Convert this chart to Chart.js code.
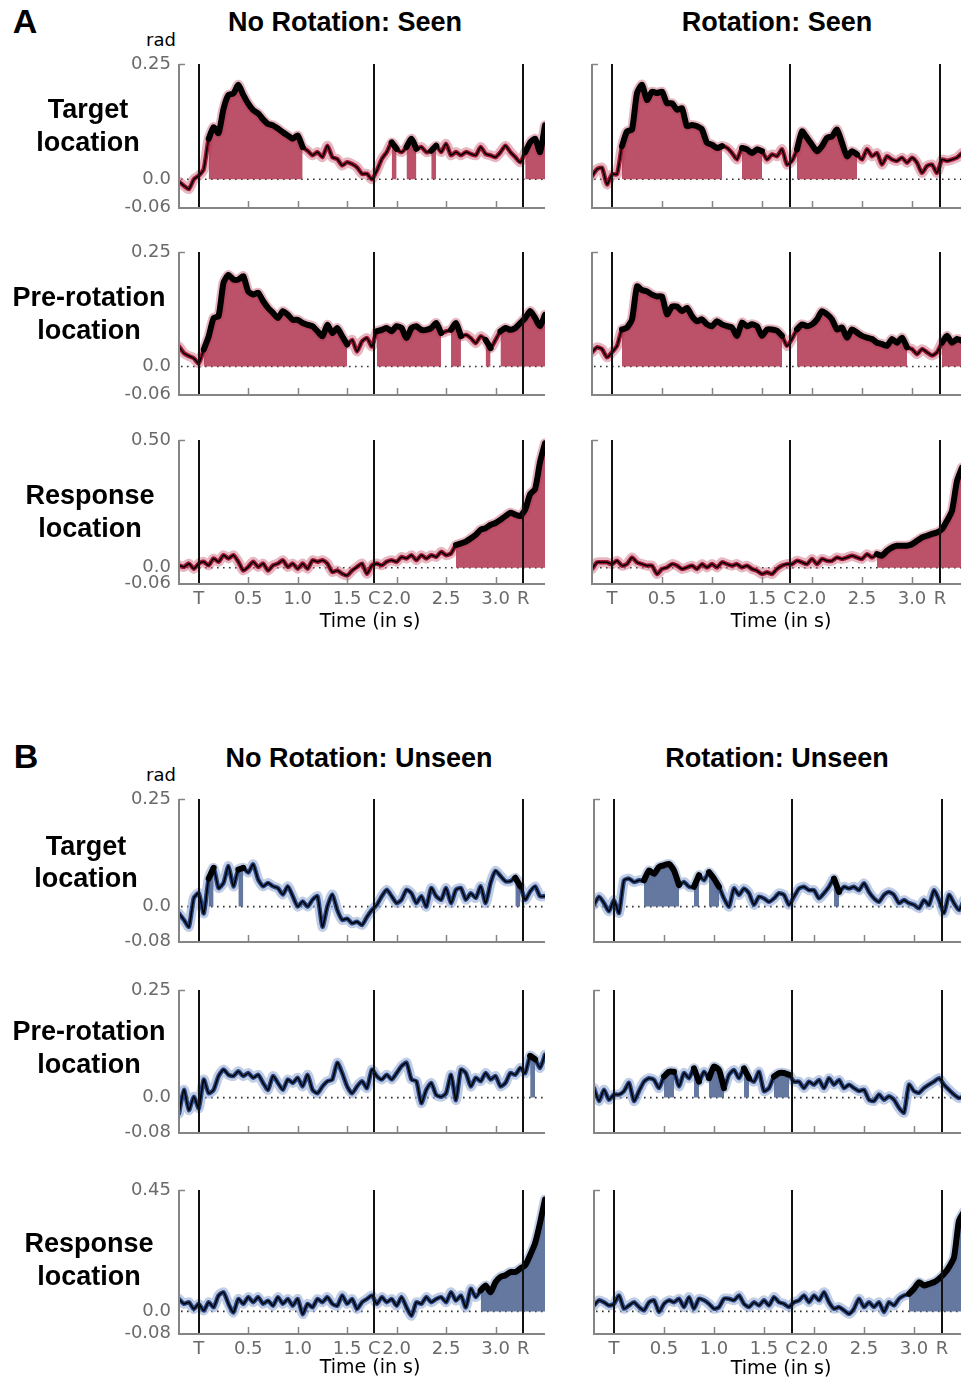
<!DOCTYPE html>
<html><head><meta charset="utf-8">
<script src="https://cdn.jsdelivr.net/npm/chart.js@4.4.0/dist/chart.umd.min.js"></script>
<style>
html,body{margin:0;padding:0;background:#fff;overflow:hidden;width:961px;height:1378px;}
#root{position:relative;width:961px;height:1378px;overflow:hidden;background:#fff;}
canvas{position:absolute;}
.t{position:absolute;white-space:nowrap;transform:translate(-50%,-50%);color:#000;}
</style></head><body><div id="root"></div>
<script>
// ---------------- DATA ----------------
const times = [-0.2,-0.15,-0.1,-0.05,0,0.05,0.1,0.15,0.2,0.25,0.3,0.35,0.4,0.45,0.5,0.55,0.6,0.65,0.7,0.75,0.8,0.85,0.9,0.95,1,1.05,1.1,1.15,1.2,1.25,1.3,1.35,1.4,1.45,1.5,1.55,1.6,1.65,1.7,1.75,1.8,1.85,1.9,1.95,2,2.05,2.1,2.15,2.2,2.25,2.3,2.35,2.4,2.45,2.5,2.55,2.6,2.65,2.7,2.75,2.8,2.85,2.9,2.95,3,3.05,3.1,3.15,3.2,3.25,3.3,3.35,3.4,3.45,3.5];

const eventTimes = [0, 1.775, 3.28];
const eventLabels = ['T', 'C', 'R'];
const tickTimes = [0.5, 1.0, 1.5, 2.0, 2.5, 3.0];
const tickLabels = ['0.5', '1.0', '1.5', '2.0', '2.5', '3.0'];

const yRangeSeen = [-0.06, 0.25];
const yLabelsSeen = ['-0.06', '0.0', '0.25'];
const yRangeSeenResp = [-0.06, 0.50];
const yLabelsSeenResp = ['-0.06', '0.0', '0.50'];
const yRangeUnseen = [-0.08, 0.25];
const yLabelsUnseen = ['-0.08', '0.0', '0.25'];
const yRangeUnseenResp = [-0.08, 0.45];
const yLabelsUnseenResp = ['-0.08', '0.0', '0.45'];

// A: Seen
const seenNoRotTarget = [-0.005,-0.014,-0.021,0.0,0.008,0.022,0.088,0.113,0.10,0.153,
 0.183,0.186,0.205,0.183,0.164,0.15,0.143,0.13,0.12,0.117,
 0.11,0.102,0.095,0.088,0.095,0.07,0.062,0.052,0.059,0.048,
 0.073,0.048,0.044,0.03,0.037,0.033,0.026,0.012,0.012,0.0,
 0.019,0.044,0.059,0.08,0.066,0.059,0.07,0.088,0.066,0.07,
 0.059,0.062,0.073,0.059,0.077,0.052,0.059,0.052,0.059,0.055,
 0.052,0.07,0.055,0.052,0.048,0.059,0.073,0.059,0.048,0.037,
 0.059,0.08,0.088,0.059,0.117];
const seenNoRotTargetSig = [[0.1,1.05],[1.95,2.0],[2.1,2.2],[2.35,2.4],[3.3,3.5]];

const seenRotTarget = [0.007,0.022,0.025,-0.011,0.011,0.011,0.072,0.104,0.108,0.187,
 0.205,0.172,0.19,0.187,0.19,0.165,0.165,0.151,0.154,0.115,
 0.118,0.115,0.108,0.079,0.075,0.068,0.072,0.068,0.057,0.043,
 0.068,0.065,0.057,0.065,0.061,0.043,0.054,0.05,0.065,0.032,
 0.04,0.065,0.104,0.09,0.075,0.061,0.072,0.09,0.093,0.108,
 0.079,0.05,0.061,0.054,0.043,0.065,0.05,0.057,0.032,0.05,
 0.043,0.04,0.047,0.036,0.047,0.036,0.014,0.029,0.032,0.014,
 0.043,0.04,0.043,0.047,0.057];
const seenRotTargetSig = [[0.1,1.1],[1.3,1.5],[1.85,2.45]];

const seenNoRotPre = [0.044,0.029,0.023,0.018,0.007,0.037,0.066,0.106,0.11,0.183,
 0.2,0.19,0.19,0.197,0.164,0.157,0.161,0.143,0.128,0.117,
 0.106,0.121,0.113,0.102,0.102,0.095,0.091,0.088,0.077,0.066,
 0.091,0.073,0.084,0.066,0.048,0.058,0.033,0.055,0.062,0.044,
 0.077,0.08,0.084,0.077,0.088,0.084,0.062,0.084,0.088,0.08,
 0.08,0.084,0.095,0.073,0.077,0.08,0.095,0.066,0.069,0.062,
 0.051,0.066,0.058,0.04,0.058,0.077,0.084,0.08,0.084,0.095,
 0.106,0.121,0.106,0.088,0.113];
const seenNoRotPreSig = [[0.05,1.5],[1.8,2.45],[2.55,2.65],[2.9,2.95],[3.05,3.5]];

const seenRotPre = [0.031,0.042,0.038,0.02,0.031,0.045,0.081,0.085,0.103,0.175,
 0.167,0.164,0.157,0.153,0.153,0.114,0.131,0.131,0.121,0.128,
 0.11,0.099,0.103,0.092,0.088,0.099,0.092,0.088,0.085,0.067,
 0.096,0.088,0.092,0.088,0.067,0.081,0.081,0.078,0.067,0.045,
 0.06,0.081,0.092,0.088,0.092,0.103,0.121,0.114,0.103,0.081,
 0.085,0.063,0.081,0.074,0.067,0.063,0.06,0.052,0.049,0.045,
 0.06,0.052,0.063,0.042,0.038,0.027,0.038,0.031,0.024,0.031,
 0.052,0.067,0.052,0.06,0.056];
const seenRotPreSig = [[0.1,1.7],[1.85,2.95],[3.3,3.5]];

const seenNoRotResp = [0.009,0.003,0.016,-0.004,0.016,0.023,0.009,0.036,0.023,0.049,
 0.036,0.049,0.023,-0.011,0.003,0.023,0.003,0.016,-0.011,0.009,
 0.016,0.029,0.003,0.016,-0.004,0.016,-0.004,0.029,0.023,0.029,
 0.016,-0.017,-0.011,-0.024,-0.031,-0.011,0.003,0.016,-0.024,0.009,
 0.016,0.009,0.023,0.029,0.023,0.042,0.036,0.049,0.029,0.049,
 0.036,0.049,0.042,0.062,0.049,0.056,0.089,0.095,0.102,0.115,
 0.129,0.149,0.155,0.168,0.175,0.188,0.202,0.215,0.208,0.202,
 0.228,0.288,0.308,0.414,0.487];
const seenNoRotRespSig = [[2.6,3.5]];

const seenRotResp = [-0.005,0.021,0.021,0.021,0.014,0.027,0.008,0.014,0.04,0.021,
 0.014,0.008,0.008,-0.025,-0.005,0.001,0.014,0.008,-0.005,0.001,
 0.008,-0.005,0.014,0.001,0.014,0.001,0.021,0.014,0.008,0.014,
 0.001,0.008,-0.005,-0.012,-0.025,-0.018,-0.025,-0.005,0.008,0.014,
 0.014,0.027,0.021,0.014,0.034,0.014,0.034,0.027,0.027,0.04,
 0.034,0.04,0.047,0.04,0.034,0.053,0.04,0.053,0.047,0.066,
 0.079,0.086,0.086,0.086,0.092,0.105,0.118,0.125,0.132,0.138,
 0.151,0.184,0.223,0.34,0.392];
const seenRotRespSig = [[2.65,3.5]];

// B: Unseen
const unseenNoRotTarget = [-0.016,-0.031,-0.047,0.02,0.031,-0.016,0.065,0.09,0.043,0.055,
 0.094,0.047,0.086,0.09,0.079,0.098,0.063,0.047,0.055,0.047,
 0.043,0.028,0.047,0.024,0.0,0.012,0.0,0.016,0.024,-0.047,
 0.0,0.028,-0.008,-0.031,-0.028,-0.039,-0.035,-0.043,-0.024,-0.008,
 0.004,0.024,0.039,0.024,0.008,0.016,0.039,0.031,0.008,0.024,
 0.0,0.043,0.024,0.016,0.043,0.008,0.039,0.043,0.016,0.031,
 0.02,0.047,0.008,0.055,0.083,0.071,0.059,0.059,0.067,0.047,
 0.016,0.035,0.047,0.024,0.024];
const unseenNoRotTargetSig = [[0.1,0.15],[0.4,0.45],[3.2,3.25]];

const unseenRotTarget = [0.004,0.023,0.008,-0.011,0.015,-0.015,0.061,0.065,0.057,0.061,
 0.061,0.084,0.076,0.092,0.096,0.099,0.084,0.05,0.057,0.046,
 0.046,0.073,0.061,0.08,0.065,0.046,0.019,0.0,0.042,0.027,
 0.042,0.031,0.004,0.023,0.019,0.011,0.019,0.031,0.027,0.004,
 0.023,0.042,0.046,0.038,0.038,0.019,0.031,0.046,0.065,0.034,
 0.046,0.042,0.046,0.038,0.054,0.034,0.019,0.011,0.027,0.034,
 0.027,0.008,0.015,0.008,0.004,-0.004,0.015,0.004,0.038,0.015,
 -0.015,0.027,0.008,-0.008,0.015];
const unseenRotTargetSig = [[0.3,0.65],[0.8,0.85],[0.95,1.05],[2.2,2.25]];

const unseenNoRotPre = [-0.037,0.018,-0.029,0.002,-0.025,0.042,0.01,0.018,0.05,0.065,
 0.053,0.05,0.061,0.05,0.057,0.046,0.053,0.034,0.018,0.05,
 0.034,0.018,0.042,0.034,0.046,0.026,0.053,0.018,0.01,0.026,
 0.038,0.042,0.081,0.057,0.026,0.01,0.026,0.038,0.022,0.065,
 0.05,0.042,0.053,0.042,0.057,0.073,0.081,0.042,0.038,-0.013,
 0.018,0.034,0.006,0.002,0.01,0.053,-0.006,0.065,0.057,0.026,
 0.046,0.038,0.057,0.042,0.05,0.026,0.034,0.057,0.053,0.069,
 0.057,0.097,0.089,0.069,0.1];
const unseenNoRotPreSig = [[3.35,3.4]];

const unseenRotPre = [0.022,-0.008,0.018,-0.005,0.007,0.007,0.015,0.034,-0.008,0.015,
 0.037,0.045,0.041,0.022,0.049,0.06,0.06,0.026,0.057,0.045,
 0.068,0.037,0.06,0.045,0.072,0.064,0.022,0.053,0.064,0.045,
 0.068,0.045,0.037,0.06,0.015,0.022,0.049,0.057,0.057,0.053,
 0.037,0.037,0.022,0.037,0.03,0.041,0.022,0.045,0.03,0.041,
 0.022,0.03,0.022,0.015,0.018,-0.005,-0.008,0.007,-0.005,0.003,
 -0.005,-0.024,-0.035,0.03,0.015,0.011,0.022,0.03,0.037,0.045,
 0.03,0.018,0.007,-0.001,0.003];
const unseenRotPreSig = [[0.5,0.6],[0.8,0.85],[0.95,1.1],[1.3,1.35],[1.6,1.75]];

const unseenNoRotResp = [0.046,0.028,0.034,0.009,0.028,0.003,0.034,0.015,0.059,0.071,
 0.028,-0.004,0.046,0.028,0.053,0.034,0.053,0.028,0.04,0.021,
 0.053,0.028,0.046,0.021,0.046,-0.01,0.028,0.015,0.046,0.034,
 0.053,0.028,0.021,0.059,0.028,0.046,0.009,0.034,0.046,0.059,
 0.028,0.053,0.034,0.046,0.021,0.053,0.015,-0.016,0.034,0.028,
 0.053,0.034,0.046,0.053,0.034,0.071,0.04,0.059,0.015,0.084,
 0.053,0.078,0.096,0.071,0.109,0.128,0.134,0.146,0.146,0.159,
 0.171,0.209,0.253,0.328,0.415];
const unseenNoRotRespSig = [[2.85,3.5]];

const unseenRotResp = [0.022,0.041,0.034,0.022,0.028,0.059,0.01,0.022,0.034,0.016,
 0.004,0.034,0.041,-0.002,0.028,0.041,0.034,0.047,0.016,0.053,
 0.01,0.047,0.041,0.028,0.01,0.016,0.047,0.047,0.041,0.059,
 0.028,0.016,0.034,0.022,0.041,0.022,0.053,0.034,0.028,0.016,
 0.034,0.041,0.059,0.034,0.059,0.041,0.071,0.034,0.01,0.016,
 0.004,-0.009,0.01,0.047,0.016,0.034,0.016,0.034,-0.002,0.034,
 0.022,0.047,0.059,0.065,0.084,0.108,0.096,0.102,0.108,0.121,
 0.139,0.164,0.2,0.336,0.37];
const unseenRotRespSig = [[2.95,3.5]];

// ---------------- STYLE ----------------
const RED = {sem:'rgba(208,112,132,0.5)', fill:'rgba(178,58,84,0.88)', edge:'rgb(160,24,54)'};
const BLUE = {sem:'rgba(150,172,212,0.6)', fill:'rgba(88,108,152,0.92)', edge:'rgb(40,70,130)'};
const AXIS_COLOR = '#858585';
const TICK_COLOR = '#6a6a6a';
const TICK_FONT = {family:'"DejaVu Sans"', size:18};

const root = document.getElementById('root');

const decor = {
  id: 'decor',
  beforeDatasetsDraw(chart) {
    const {ctx, chartArea: a, scales: {x, y}} = chart;
    const y0 = y.getPixelForValue(0);
    ctx.save();
    ctx.strokeStyle = '#333'; ctx.lineWidth = 1.6; ctx.setLineDash([1.6, 4.4]);
    ctx.beginPath(); ctx.moveTo(a.left + 2, y0); ctx.lineTo(a.right, y0); ctx.stroke();
    ctx.restore();
  },
  afterDatasetsDraw(chart) {
    const {ctx, chartArea: a, scales: {x}} = chart;
    ctx.save();
    ctx.strokeStyle = '#111'; ctx.lineWidth = 2;
    eventTimes.forEach(t => {
      const px = Math.round(x.getPixelForValue(t));
      ctx.beginPath(); ctx.moveTo(px, a.top); ctx.lineTo(px, a.bottom); ctx.stroke();
    });
    ctx.strokeStyle = AXIS_COLOR; ctx.lineWidth = 1.5;
    tickTimes.forEach(t => {
      const px = Math.round(x.getPixelForValue(t)) + 0.5;
      ctx.beginPath(); ctx.moveTo(px, a.bottom); ctx.lineTo(px, a.bottom - 6); ctx.stroke();
    });
    ctx.beginPath(); ctx.moveTo(a.left, a.top + 0.5); ctx.lineTo(a.left + 6, a.top + 0.5); ctx.stroke();
    ctx.lineWidth = 2;
    ctx.beginPath(); ctx.moveTo(a.left, a.top); ctx.lineTo(a.left, a.bottom + 1); ctx.lineTo(a.right, a.bottom + 1); ctx.stroke();
    ctx.restore();
  }
};

function buildPanel(p) {
  const isLeft = p.col === 0;
  const axL = isLeft ? 179 : (p.block === 'A' ? 592 : 594);
  const plotW = isLeft ? 366 : 370;
  const leftW = isLeft ? 80 : 6;
  const padT = 12, padR = 14;
  const botH = p.bottomRow ? 30 : 8;
  const W = leftW + plotW + padR, H = padT + (p.bottom - p.top) + botH;
  const cv = document.createElement('canvas');
  cv.width = W; cv.height = H;
  cv.style.left = (axL - leftW) + 'px'; cv.style.top = (p.top - padT) + 'px';
  cv.style.width = W + 'px'; cv.style.height = H + 'px';
  root.appendChild(cv);

  const inSig = t => p.sig.some(([s, e]) => t >= s - 1e-6 && t <= e + 1e-6);
  const all = times.map((t, i) => ({x: t, y: p.values[i]}));
  const sigPts = times.map((t, i) => ({x: t, y: inSig(t) ? p.values[i] : null}));
  const common = {pointRadius: 0, tension: 0.2, fill: false, spanGaps: false,
    clip: {left: 0, right: 0, top: 12, bottom: 12}, borderCapStyle: 'round', borderJoinStyle: 'round'};
  const c = p.colors;

  const xTickVals = eventTimes.concat(tickTimes).sort((a, b) => a - b);
  const xLabelFor = v => {
    let i = eventTimes.findIndex(e => Math.abs(e - v) < 1e-6);
    if (i >= 0) return eventLabels[i];
    i = tickTimes.findIndex(e => Math.abs(e - v) < 1e-6);
    return i >= 0 ? tickLabels[i] : '';
  };
  const yVals = [p.yRange[0], 0, p.yRange[1]];
  const yLabelFor = v => {
    const i = yVals.findIndex(e => Math.abs(e - v) < 1e-9);
    return i >= 0 ? p.yLabels[i] : '';
  };

  new Chart(cv, {
    type: 'line',
    data: {datasets: [
      Object.assign({}, common, {data: all, borderColor: c.sem, borderWidth: 10, order: 5}),
      Object.assign({}, common, {data: sigPts, borderWidth: 0, borderColor: 'rgba(0,0,0,0)', backgroundColor: c.fill, fill: 'origin', order: 4}),
      Object.assign({}, common, {data: all, borderColor: c.edge, borderWidth: 4.5, order: 3}),
      Object.assign({}, common, {data: all, borderColor: '#000', borderWidth: 1.6, order: 2}),
      Object.assign({}, common, {data: sigPts, borderColor: '#000', borderWidth: 6, order: 1})
    ]},
    options: {
      responsive: false, animation: false, devicePixelRatio: 1,
      layout: {padding: {left: 0, right: padR, top: padT, bottom: 0}},
      plugins: {legend: {display: false}, tooltip: {enabled: false}},
      events: [],
      scales: {
        x: {
          type: 'linear', min: -0.2, max: 3.5,
          afterBuildTicks: s => { s.ticks = xTickVals.map(v => ({value: v})); },
          afterFit: s => { s.height = botH; s.paddingLeft = 0; s.paddingRight = 0; s.paddingTop = 0; s.paddingBottom = 0; },
          grid: {display: false, drawTicks: false},
          border: {display: false},
          ticks: {display: !!p.bottomRow, autoSkip: false, maxRotation: 0, minRotation: 0,
            padding: 6, color: TICK_COLOR, font: TICK_FONT, callback: v => xLabelFor(v)}
        },
        y: {
          type: 'linear', min: p.yRange[0], max: p.yRange[1],
          afterBuildTicks: s => { s.ticks = yVals.map(v => ({value: v})); },
          afterFit: s => { s.width = leftW; s.paddingTop = 0; s.paddingBottom = 0; s.paddingLeft = 0; s.paddingRight = 0; },
          grid: {display: false, drawTicks: false},
          border: {display: false},
          ticks: {display: isLeft, autoSkip: false, padding: 8, color: TICK_COLOR, font: TICK_FONT,
            callback: v => yLabelFor(v)}
        }
      }
    },
    plugins: [decor]
  });
}

const rowsA = [{top: 64, bottom: 207}, {top: 252, bottom: 394}, {top: 440, bottom: 583}];
const rowsB = [{top: 799, bottom: 941}, {top: 990, bottom: 1132}, {top: 1190, bottom: 1333}];

const panels = [
  {block:'A', col:0, row:0, values: seenNoRotTarget, sig: seenNoRotTargetSig, yRange: yRangeSeen, yLabels: yLabelsSeen, colors: RED},
  {block:'A', col:1, row:0, values: seenRotTarget, sig: seenRotTargetSig, yRange: yRangeSeen, yLabels: yLabelsSeen, colors: RED},
  {block:'A', col:0, row:1, values: seenNoRotPre, sig: seenNoRotPreSig, yRange: yRangeSeen, yLabels: yLabelsSeen, colors: RED},
  {block:'A', col:1, row:1, values: seenRotPre, sig: seenRotPreSig, yRange: yRangeSeen, yLabels: yLabelsSeen, colors: RED},
  {block:'A', col:0, row:2, values: seenNoRotResp, sig: seenNoRotRespSig, yRange: yRangeSeenResp, yLabels: yLabelsSeenResp, colors: RED},
  {block:'A', col:1, row:2, values: seenRotResp, sig: seenRotRespSig, yRange: yRangeSeenResp, yLabels: yLabelsSeenResp, colors: RED},
  {block:'B', col:0, row:0, values: unseenNoRotTarget, sig: unseenNoRotTargetSig, yRange: yRangeUnseen, yLabels: yLabelsUnseen, colors: BLUE},
  {block:'B', col:1, row:0, values: unseenRotTarget, sig: unseenRotTargetSig, yRange: yRangeUnseen, yLabels: yLabelsUnseen, colors: BLUE},
  {block:'B', col:0, row:1, values: unseenNoRotPre, sig: unseenNoRotPreSig, yRange: yRangeUnseen, yLabels: yLabelsUnseen, colors: BLUE},
  {block:'B', col:1, row:1, values: unseenRotPre, sig: unseenRotPreSig, yRange: yRangeUnseen, yLabels: yLabelsUnseen, colors: BLUE},
  {block:'B', col:0, row:2, values: unseenNoRotResp, sig: unseenNoRotRespSig, yRange: yRangeUnseenResp, yLabels: yLabelsUnseenResp, colors: BLUE},
  {block:'B', col:1, row:2, values: unseenRotResp, sig: unseenRotRespSig, yRange: yRangeUnseenResp, yLabels: yLabelsUnseenResp, colors: BLUE}
];

panels.forEach(p => {
  const r = (p.block === 'A' ? rowsA : rowsB)[p.row];
  buildPanel(Object.assign({}, p, {top: r.top, bottom: r.bottom, bottomRow: p.row === 2}));
});

// ---------------- TEXT ----------------
function text(str, x, y, css) {
  const d = document.createElement('div');
  d.className = 't';
  d.innerHTML = str;
  d.style.left = x + 'px'; d.style.top = y + 'px';
  Object.assign(d.style, css || {});
  root.appendChild(d);
}
const BOLD = {fontFamily: '"Liberation Sans", Arial, sans-serif', fontWeight: 'bold', fontSize: '27px', lineHeight: '33px', textAlign: 'center'};
const DJ = {fontFamily: '"DejaVu Sans", sans-serif', fontSize: '19px', lineHeight: '1'};

text('A', 25, 21, {fontFamily: '"Liberation Sans", Arial, sans-serif', fontWeight: 'bold', fontSize: '34px', lineHeight: '1'});
text('B', 26, 756, {fontFamily: '"Liberation Sans", Arial, sans-serif', fontWeight: 'bold', fontSize: '34px', lineHeight: '1'});
text('No Rotation: Seen', 345, 22, BOLD);
text('Rotation: Seen', 777, 22, BOLD);
text('No Rotation: Unseen', 359, 758, BOLD);
text('Rotation: Unseen', 777, 758, BOLD);
text('rad', 161, 40, {fontFamily: '"DejaVu Sans", sans-serif', fontSize: '18px', lineHeight: '1'});
text('rad', 161, 775, {fontFamily: '"DejaVu Sans", sans-serif', fontSize: '18px', lineHeight: '1'});
text('Target<br>location', 88, 126, BOLD);
text('Pre-rotation<br>location', 89, 314, BOLD);
text('Response<br>location', 90, 512, BOLD);
text('Target<br>location', 86, 862, Object.assign({}, BOLD, {lineHeight: '32px'}));
text('Pre-rotation<br>location', 89, 1048, BOLD);
text('Response<br>location', 89, 1260, BOLD);
text('Time (in s)', 370, 620, DJ);
text('Time (in s)', 781, 620, DJ);
text('Time (in s)', 370, 1366, DJ);
text('Time (in s)', 781, 1367, DJ);
</script>
</body></html>
